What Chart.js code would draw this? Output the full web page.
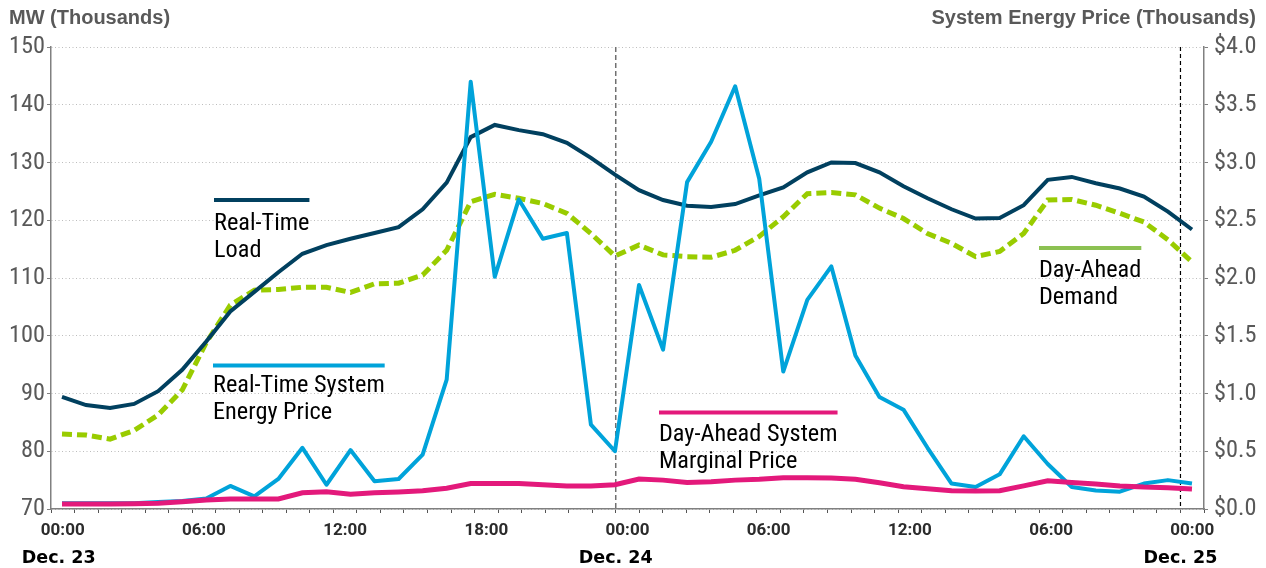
<!DOCTYPE html>
<html>
<head>
<meta charset="utf-8">
<script src="https://cdn.jsdelivr.net/npm/chart.js@4.4.1/dist/chart.umd.min.js"></script>
<style>
  html, body { margin: 0; padding: 0; background: #fff; }
  canvas { display: block; }
</style>
</head>
<body>
<canvas id="chart" width="1266" height="568"></canvas>
<script>
// hourly values, Dec 23 00:00 .. Dec 24 23:00
var realTimeLoad = [89.4, 88.0, 87.5, 88.2, 90.4, 94.1, 99.0, 104.2, 107.6, 111.0, 114.2, 115.7,
  116.8, 117.8, 118.8, 121.9, 126.5, 134.4, 136.5, 135.6, 134.9, 133.4, 130.8, 127.9,
  125.2, 123.5, 122.5, 122.3, 122.8, 124.3, 125.7, 128.3, 130.0, 129.9, 128.3, 125.9,
  123.8, 121.9, 120.3, 120.4, 122.6, 127.0, 127.5, 126.4, 125.5, 124.1, 121.5, 118.4];

var dayAheadDemand = [83.0, 82.8, 82.1, 83.6, 86.3, 90.6, 98.8, 105.3, 107.9, 108.0, 108.4, 108.4,
  107.5, 109.0, 109.1, 110.5, 114.8, 123.2, 124.5, 123.8, 122.9, 121.2, 117.7, 113.8,
  115.7, 114.0, 113.7, 113.6, 114.8, 117.2, 120.6, 124.6, 124.8, 124.4, 122.1, 120.3,
  117.7, 116.0, 113.7, 114.6, 117.7, 123.5, 123.6, 122.6, 121.2, 119.7, 116.6, 112.8];

// $ thousands
var realTimePrice = [0.05, 0.05, 0.05, 0.05, 0.06, 0.07, 0.09, 0.20, 0.11, 0.26, 0.53, 0.21,
  0.51, 0.24, 0.26, 0.47, 1.12, 3.70, 2.01, 2.68, 2.34, 2.39, 0.73, 0.50,
  1.94, 1.38, 2.83, 3.18, 3.66, 2.86, 1.19, 1.81, 2.10, 1.33, 0.97, 0.86,
  0.53, 0.22, 0.19, 0.30, 0.63, 0.39, 0.19, 0.16, 0.15, 0.22, 0.25, 0.22];

var dayAheadPrice = [0.043, 0.043, 0.043, 0.045, 0.05, 0.063, 0.078, 0.087, 0.087, 0.087, 0.14, 0.15,
  0.127, 0.14, 0.147, 0.158, 0.18, 0.22, 0.22, 0.22, 0.21, 0.20, 0.20, 0.21,
  0.26, 0.25, 0.23, 0.235, 0.25, 0.257, 0.27, 0.27, 0.268, 0.257, 0.228, 0.193,
  0.176, 0.158, 0.155, 0.158, 0.20, 0.245, 0.23, 0.216, 0.20, 0.19, 0.185, 0.173];

// one label every 6 hours (as printed on the original axis)
var tickLabels = ['00:00', '06:00', '12:00', '18:00', '00:00', '06:00', '12:00', '06:00', '00:00'];
var dayLabels = ['Dec. 23', 'Dec. 24', 'Dec. 25'];

var NAVY = '#01405f', BLUE = '#00a3da', GREEN = '#99cc00', PINK = '#e3197b', LEGEND_GREEN = '#8cc152';
var NARROW = "'Roboto Condensed', Roboto, sans-serif";

var hourLabels = [];
for (var i = 0; i <= 48; i++) {
  hourLabels.push(i % 6 === 0 ? tickLabels[i / 6] : '');
}

function pts(arr) {
  return arr.map(function (v, i) { return { x: i, y: v }; });
}

var annotations = {
  id: 'annotations',
  beforeDatasetsDraw: function (chart) {
    var c = chart.ctx, x = chart.scales.x, a = chart.chartArea;
    c.save();
    // day boundaries
    var p24 = x.getPixelForValue(23.5), p25 = x.getPixelForValue(47.5);
    c.lineWidth = 1.5; c.strokeStyle = '#707070'; c.setLineDash([5, 3]);
    c.beginPath(); c.moveTo(p24, a.top); c.lineTo(p24, a.bottom); c.stroke();
    c.lineWidth = 1.2; c.strokeStyle = '#000'; c.setLineDash([4, 3]);
    c.beginPath(); c.moveTo(p25, a.top); c.lineTo(p25, a.bottom); c.stroke();
    c.restore();
  },
  afterDraw: function (chart) {
    var c = chart.ctx, x = chart.scales.x;
    c.save();
    // axis titles
    c.fillStyle = '#595959';
    c.font = "bold 20px 'Liberation Sans', Arial, sans-serif";
    c.textBaseline = 'alphabetic';
    c.textAlign = 'left';
    c.fillText('MW (Thousands)', 9, 24);
    c.textAlign = 'right';
    c.fillText('System Energy Price (Thousands)', 1256, 24);

    // dates under the axis
    c.fillStyle = '#000';
    c.font = "bold 17.5px 'DejaVu Sans', sans-serif";
    c.textAlign = 'center';
    c.fillText(dayLabels[0], x.getPixelForValue(0) - 4, 563);
    c.fillText(dayLabels[1], x.getPixelForValue(23.5), 563);
    c.fillText(dayLabels[2], x.getPixelForValue(47.5), 563);

    // series labels
    c.font = '24.3px ' + NARROW;
    c.textAlign = 'left';
    function label(lines, lx, ly, color, lineY) {
      var w = c.measureText(lines[0]).width;
      c.strokeStyle = color; c.lineWidth = 4; c.setLineDash([]);
      c.beginPath(); c.moveTo(lx, lineY); c.lineTo(lx + w, lineY); c.stroke();
      c.fillStyle = '#000';
      lines.forEach(function (t, k) { c.fillText(t, lx, ly + k * 27); });
    }
    label(['Real-Time', 'Load'], 214, 230, NAVY, 200);
    label(['Real-Time System', 'Energy Price'], 213, 392, BLUE, 365.5);
    label(['Day-Ahead System', 'Marginal Price'], 659, 441, PINK, 412.5);
    label(['Day-Ahead', 'Demand'], 1039, 277, LEGEND_GREEN, 248);
    c.restore();
  }
};

new Chart(document.getElementById('chart'), {
  type: 'line',
  data: {
    labels: hourLabels,
    datasets: [
      { label: 'Day-Ahead System Marginal Price', data: pts(dayAheadPrice), xAxisID: 'x2', yAxisID: 'y2',
        borderColor: PINK, borderWidth: 5, pointRadius: 0, tension: 0, order: 1 },
      { label: 'Real-Time System Energy Price', data: pts(realTimePrice), xAxisID: 'x2', yAxisID: 'y2',
        borderColor: BLUE, borderWidth: 4, borderJoinStyle: 'round', pointRadius: 0, tension: 0, order: 2 },
      { label: 'Real-Time Load', data: pts(realTimeLoad), xAxisID: 'x2', yAxisID: 'y',
        borderColor: NAVY, borderWidth: 4, pointRadius: 0, tension: 0, order: 3 },
      { label: 'Day-Ahead Demand', data: pts(dayAheadDemand), xAxisID: 'x2', yAxisID: 'y',
        borderColor: GREEN, borderWidth: 5, borderDash: [10, 5], pointRadius: 0, tension: 0, order: 4 }
    ]
  },
  options: {
    responsive: false,
    animation: false,
    devicePixelRatio: 1,
    layout: { padding: { top: 47, left: 0, right: 0, bottom: 0 } },
    plugins: { legend: { display: false }, tooltip: { enabled: false } },
    scales: {
      x: {
        type: 'category',
        offset: true,
        grid: { offset: true, drawOnChartArea: false, drawTicks: true, tickLength: 4, tickColor: '#555', tickWidth: 1 },
        border: { color: '#808080', width: 1.5 },
        ticks: { autoSkip: false, maxRotation: 0, padding: 8, color: '#2b2b2b',
          font: { family: 'Roboto, sans-serif', size: 17, weight: 'bold' } },
        afterFit: function (s) { s.height = 59; }
      },
      x2: {
        type: 'linear',
        display: false,
        min: -0.4575,
        max: 47.5
      },
      y: {
        position: 'left',
        min: 70, max: 150,
        ticks: { stepSize: 10, padding: 2, color: '#595959', font: { family: NARROW, size: 24.3 } },
        grid: { color: '#bdbdbd', lineWidth: 1, tickLength: 4, tickColor: '#808080', tickWidth: 1 },
        border: { color: '#808080', width: 1.5, dash: [1, 2.5] },
        afterFit: function (s) { s.width = 51; }
      },
      y2: {
        position: 'right',
        min: 0, max: 4,
        ticks: { stepSize: 0.5, padding: 6, color: '#595959', font: { family: NARROW, size: 24.3 },
          callback: function (v) { return '$' + Number(v).toFixed(1); } },
        grid: { drawOnChartArea: false, tickLength: 4, tickColor: '#808080', tickWidth: 1 },
        border: { color: '#808080', width: 1.5 },
        afterFit: function (s) { s.width = 62; }
      }
    }
  },
  plugins: [annotations]
});
</script>
</body>
</html>
